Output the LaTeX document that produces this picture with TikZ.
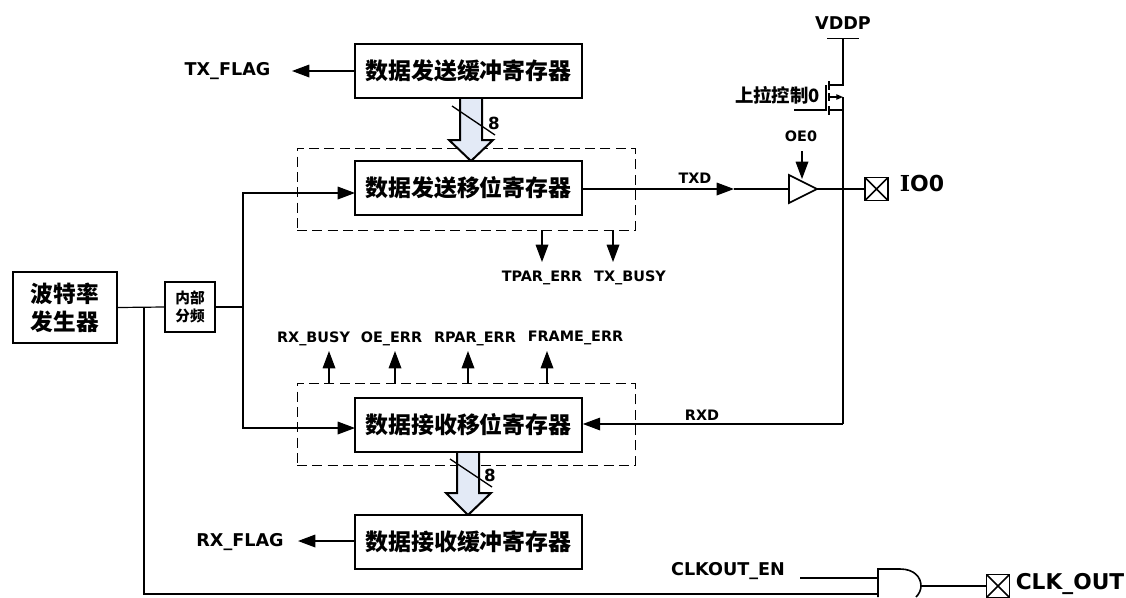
\documentclass[tikz,border=0pt]{standalone}
\usepackage{fontspec}
\setmainfont{DejaVu Sans}
\newfontfamily\cjk{Noto Sans CJK SC}
\newfontfamily\serifcap{DejaVu Serif}
\usetikzlibrary{arrows.meta,positioning,calc}
\definecolor{busfill}{HTML}{E3EAF6}

\begin{document}
\bfseries
\begin{tikzpicture}[
    x=0.75pt, y=-0.75pt,
    regbox/.style={draw, line width=1.5pt, fill=white, minimum width=170pt, minimum height=40pt, inner sep=0pt, align=center, font=\cjk\fontsize{17.2pt}{20pt}\selectfont},
    wrap/.style={draw, dash pattern=on 7.5pt off 4pt, line width=0.7pt, minimum width=253.5pt, minimum height=61.5pt, inner sep=0pt},
    pad/.style={draw, line width=1.2pt, minimum size=17.5pt, inner sep=0pt, path picture={
        \draw[line width=1.2pt] (path picture bounding box.south west) -- (path picture bounding box.north east)
            (path picture bounding box.north west) -- (path picture bounding box.south east);}},
    sig/.style={font=\fontsize{13.2pt}{15pt}\selectfont, inner sep=0pt},
    flag/.style={font=\fontsize{10.8pt}{13pt}\selectfont, inner sep=0pt},
    wire/.style={line width=0.9pt},
    arr/.style={wire, -{Triangle[length=13pt,width=9.5pt]}},
    bus/.style={draw, line width=1.5pt, fill=busfill},
    slash/.style={line width=1pt}
]
\useasboundingbox (0,0) rectangle (1126,597);

\node[wrap] (txwrap) at (466,189) {};
\node[wrap] (rxwrap) at (466,424) {};

\draw[bus] (460,98) -- (460,140) -- (449,140) -- (471,161) -- (493,140) -- (482,140) -- (482,98);
\draw[bus] (457,452) -- (457,493) -- (446,493) -- (468,515) -- (491,493) -- (479,493) -- (479,452);

\node[regbox] (txbuf) at (468.5,71) {数据发送缓冲寄存器};
\node[regbox] (txshift) at (468.5,188) {数据发送移位寄存器};
\node[regbox] (rxshift) at (468.5,425) {数据接收移位寄存器};
\node[regbox] (rxbuf) at (468.5,542) {数据接收缓冲寄存器};
\node[draw, line width=1.5pt, minimum width=78pt, minimum height=53pt, inner sep=0pt, align=center, font=\cjk\fontsize{17pt}{21pt}\selectfont] (baud) at (65,307.5) {波特率\\发生器};
\node[draw, line width=1.5pt, minimum width=37.5pt, minimum height=37pt, inner sep=0pt, align=center, font=\cjk\fontsize{11pt}{14pt}\selectfont] (div) at (190,307) {内部\\分频};

\draw[slash] (452,106) -- (495,135);
\draw[slash] (450,459) -- (492,487);
\node[flag, font=\fontsize{12.5pt}{14pt}\selectfont] (txbits) at (494,123) {8};
\node[flag, font=\fontsize{12.5pt}{14pt}\selectfont] (rxbits) at (490,475) {8};

% labels
\node[sig] (txflag) at (227.5,71) {TX\_FLAG};
\node[sig] (rxflag) at (240,542) {RX\_FLAG};
\node[flag] (tpar) at (542,278) {TPAR\_ERR};
\node[flag] (txbusy) at (630,278) {TX\_BUSY};
\node[flag] (rxbusy) at (313.5,339) {RX\_BUSY};
\node[flag] (oeerr) at (391.5,339) {OE\_ERR};
\node[flag] (rparerr) at (475,339) {RPAR\_ERR};
\node[flag] (frameerr) at (575.5,338) {FRAME\_ERR};
\node[flag] (txd) at (695,178) {TXD};
\node[flag] (rxd) at (702,415) {RXD};
\node[flag] (oe) at (801,136) {OE0};
\node[sig] (vddp) at (843,23) {VDDP};
\node[inner sep=0pt, font=\cjk\fontsize{13.8pt}{15pt}\selectfont] (pull) at (777.5,95) {上拉控制0};
\node[inner sep=0pt, font=\fontsize{16.5pt}{19pt}\selectfont] (io) at (922,183) {{\serifcap I}O0};
\node[sig] (clken) at (728,571) {CLKOUT\_EN};
\node[inner sep=0pt, font=\fontsize{16.3pt}{19pt}\selectfont] (clkout) at (1070,584) {CLK\_OUT};

\node[pad] (iopad) at (876.5,189) {};
\node[pad] (clkpad) at (998,586) {};

% free ends
\coordinate (txflagend) at (292,71);
\coordinate (rxflagend) at (298,541);
\coordinate (tparend) at (542,262);
\coordinate (busyend) at (613,262);
\coordinate (rxbusyend) at (329,351);
\coordinate (oeend) at (395,351);
\coordinate (rparend) at (468,351);
\coordinate (frameend) at (547,351);
\coordinate (split) at (243,307);
\coordinate (txin) at (355,193);
\coordinate (rxin) at (355,428);
\coordinate (clktap) at (144,307);
\coordinate (bufin) at (789,189);
\coordinate (bufout) at (817,189);
\coordinate (oetop) at (802,151);
\coordinate (oetip) at (802,179);
\coordinate (txdmid) at (734,189);
\coordinate (gndl) at (827,38.5);
\coordinate (gndr) at (859,38.5);
\coordinate (gnd) at (843,38.5);
\coordinate (railbot) at (843,424);
\coordinate (gatein) at (794,110);
\coordinate (andin) at (878,578);
\coordinate (andinb) at (878,594);
\coordinate (enstart) at (800,578);
\coordinate (andout) at (921,586);

\draw[arr] (txbuf.west |- txflagend) -- (txflagend);
\draw[arr] (rxbuf.west |- rxflagend) -- (rxflagend);
\draw[arr] (txwrap.south -| tparend) -- (tparend);
\draw[arr] (txwrap.south -| busyend) -- (busyend);
\draw[arr] (rxwrap.north -| rxbusyend) -- (rxbusyend);
\draw[arr] (rxwrap.north -| oeend) -- (oeend);
\draw[arr] (rxwrap.north -| rparend) -- (rparend);
\draw[arr] (rxwrap.north -| frameend) -- (frameend);

\draw[wire] (baud.east) -- (div.west);
\draw[wire] (div.east) -- (split);
\draw[arr] (split) |- (txin);
\draw[arr] (split) |- (rxin);
\draw[wire] (clktap) |- (andinb);
\draw[wire] (enstart) -- (andin);

\draw[arr] (txshift.east |- bufin) -- (txdmid);
\draw[wire] (txdmid) -- (bufin);
\draw[line width=1.2pt] (bufin) -- (789,175) -- (bufout) -- (789,203) -- cycle;
\draw[wire] (bufout) -- (iopad.west);
\draw[arr] (oetop) -- (oetip);

% pull-up transistor
\draw[wire] (gndl) -- (gndr);
\draw[wire] (gnd) -- (843,85) -- (829,85);
\draw[wire] (829,81) -- (829,90) (829,93) -- (829,101) (829,106) -- (829,115);
\draw[wire] (826,85) -- (826,110) -- (gatein);
\draw[wire] (829,110) -- (843,110);
\draw[wire, -{Triangle[length=5pt,width=4pt]}] (829,97) -- (843,97);
\draw[wire] (843,97) -- (railbot);
\draw[arr] (railbot) -- (rxshift.east |- railbot);

% output gate
\draw[line width=1.2pt] (878,597) -- (878,569) -- (900,569) .. controls (914,569) and (921,577) .. (andout) .. controls (921,590) and (919,594) .. (916,597);
\draw[line width=1.2pt] (866,578) -- (andin) (866,594) -- (andinb) (andout) -- (932,586);
\draw[wire] (andout) -- (clkpad.west);
\end{tikzpicture}
\end{document}
